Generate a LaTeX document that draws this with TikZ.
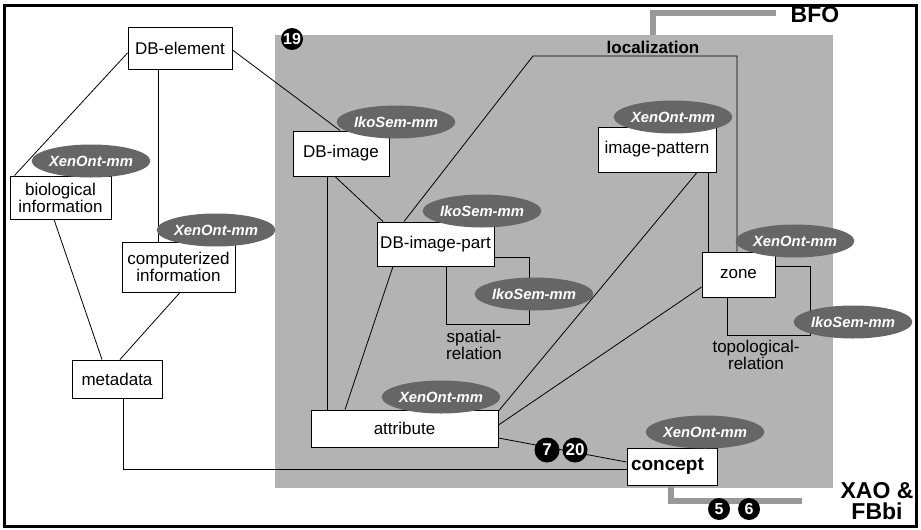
\documentclass[tikz,border=0pt]{standalone}
\usepackage{fontspec}
\setmainfont{Liberation Sans}
\usetikzlibrary{shapes.geometric,calc}
\definecolor{regiongray}{HTML}{B3B3B3}
\definecolor{tagfill}{HTML}{666666}
\definecolor{linkgray}{HTML}{999999}

\begin{document}
\begin{tikzpicture}[x=1pt,y=-1pt,
  box/.style={draw=black, fill=white, line width=1pt, inner sep=0pt, align=center,
    font=\fontsize{17}{15}\selectfont},
  tag/.style={ellipse, fill=tagfill, text=white, minimum width=110pt, minimum height=33pt,
    inner sep=0pt, font=\fontsize{14.8}{14.8}\selectfont\bfseries\itshape},
  badge/.style={circle, fill=black, text=white, inner sep=0pt, minimum size=22pt,
    font=\fontsize{16}{16}\selectfont\bfseries},
  bigbadge/.style={badge, minimum size=25pt, font=\fontsize{17}{17}\selectfont\bfseries},
  link/.style={draw=black, line width=0.8pt},
  rel/.style={align=center, font=\fontsize{17}{15}\selectfont},
  upper/.style={draw=linkgray, line width=5.5pt},
  heading/.style={font=\fontsize{23}{21}\selectfont\bfseries, align=center}
]
\useasboundingbox (0,0) rectangle (921,530);
\fill[white] (0,0) rectangle (921,530);

% shaded core region
\node[fill=regiongray, minimum width=558pt, minimum height=453pt, inner sep=0pt] (region) at (554,261.5) {};

% outer frame
\draw[line width=3pt] (4.5,5.5) rectangle (916,526.5);

% helper coordinates for routed connectors
\coordinate (locL) at (533,56);
\coordinate (locR) at (737,56);
\coordinate (spBR) at (529,324);
\coordinate (tpBR) at (810,335);
\coordinate (bfoCorner) at (653,13);
\coordinate (xaoEnd) at (802,501);

% labels
\node[heading, anchor=base] (bfo) at (815,22) {BFO};
\node[heading] (xao) at (877,501) {XAO \&\\FBbi};
\node[font=\fontsize{17}{17}\selectfont\bfseries, anchor=base] (loc) at (653,53) {localization};
\node[rel] (spat) at (474,345) {spatial-\\relation};
\node[rel] (topo) at (756,355) {topological-\\relation};

% boxes
\node[box, minimum width=104pt, minimum height=42pt] (dbelement) at (180,48) {DB-element};
\node[box, minimum width=101pt, minimum height=43pt] (bioinfo) at (60.5,197.5) {biological\\information};
\node[box, minimum width=113pt, minimum height=50pt] (compinfo) at (178.5,267) {computerized\\information};
\node[box, minimum width=90pt, minimum height=38pt] (metadata) at (117,379) {metadata};
\node[box, minimum width=96pt, minimum height=45pt] (dbimage) at (341,153.5) {DB-image};
\node[box, minimum width=117pt, minimum height=44pt] (dbimagepart) at (435.5,244) {DB-image-part};
\node[box, minimum width=187pt, minimum height=37pt] (attribute) at (404.5,428.5) {attribute};
\node[box, minimum width=118pt, minimum height=45pt] (imagepattern) at (657,149.5) {image-pattern};
\node[box, minimum width=73pt, minimum height=45pt] (zone) at (738.5,274.5) {zone};
\node[box, minimum width=90pt, minimum height=37pt, text width=82pt, align=left,
  font=\fontsize{19}{19}\selectfont\bfseries] (concept) at (672,466.5) {concept};

% connectors
\path[link] ([yshift=-5pt]dbelement.west) -- ([xshift=5pt]bioinfo.north west);
\path[link] ([xshift=-22pt]dbelement.south) -- ([xshift=-22pt]dbelement.south |- compinfo.north);
\path[link] ([yshift=-2pt]dbelement.east) -- ([xshift=-1pt]dbimage.north);
\path[link] ([xshift=-6.5pt]bioinfo.south) -- ([xshift=-15pt]metadata.north);
\path[link] ([xshift=1.5pt]compinfo.south) -- ([xshift=3pt]metadata.north);
\path[link] ([xshift=6pt]metadata.south) |- ([yshift=-2.5pt]concept.west);
\path[link] ([xshift=-14pt]dbimage.south) -- ([xshift=-14pt]dbimage.south |- attribute.north);
\path[link] ([xshift=-6pt]dbimage.south) -- ([xshift=-52.5pt]dbimagepart.north);
\path[link] ([xshift=-31.5pt]dbimagepart.north) -- (locL) -- (locR) -- (locR |- zone.north);
\path[link] ([xshift=-42.5pt]dbimagepart.south) -- ([xshift=-59.5pt]attribute.north);
\path[link] ([yshift=-13pt]dbimagepart.east) -| (spBR) -| ([xshift=10.5pt]dbimagepart.south);
\path[link] ([xshift=40pt]imagepattern.south) -- ([yshift=17.5pt]attribute.east);
\path[link] ([xshift=51pt]imagepattern.south) -- ([xshift=51pt]imagepattern.south |- zone.north);
\path[link] ([yshift=-12.5pt]zone.west) -- ([yshift=3.5pt]attribute.east);
\path[link] ([yshift=8.5pt]zone.east) -| (tpBR) -| ([xshift=-11.5pt]zone.south);
\path[link] ([yshift=-9.5pt]attribute.east) -- ([yshift=4.5pt]concept.west);

% links to the upper ontologies
\draw[upper] (bfoCorner |- region.north) -- (bfoCorner) -- ([xshift=-11pt]bfo.west |- bfoCorner);
\draw[upper] ([xshift=-1pt]concept.south) |- (xaoEnd);

% ontology tags
\node[tag] (tagBio) at (91,161) {XenOnt-mm};
\node[tag] (tagComp) at (216,230) {XenOnt-mm};
\node[tag] (tagImg) at (396,122) {IkoSem-mm};
\node[tag] (tagPart) at (482,211) {IkoSem-mm};
\node[tag] (tagPat) at (673,117) {XenOnt-mm};
\node[tag] (tagZone) at (795,241) {XenOnt-mm};
\node[tag] (tagSpat) at (534,294) {IkoSem-mm};
\node[tag] (tagTopo) at (853,322) {IkoSem-mm};
\node[tag] (tagAttr) at (441,397) {XenOnt-mm};
\node[tag] (tagConc) at (705,432) {XenOnt-mm};

% numbered badges
\node[badge] (b19) at (292,39) {19};
\node[bigbadge] (b7) at (547,450) {7};
\node[bigbadge] (b20) at (575,450) {20};
\node[badge] (b5) at (719,509) {5};
\node[badge] (b6) at (749,509) {6};
\end{tikzpicture}
\end{document}
